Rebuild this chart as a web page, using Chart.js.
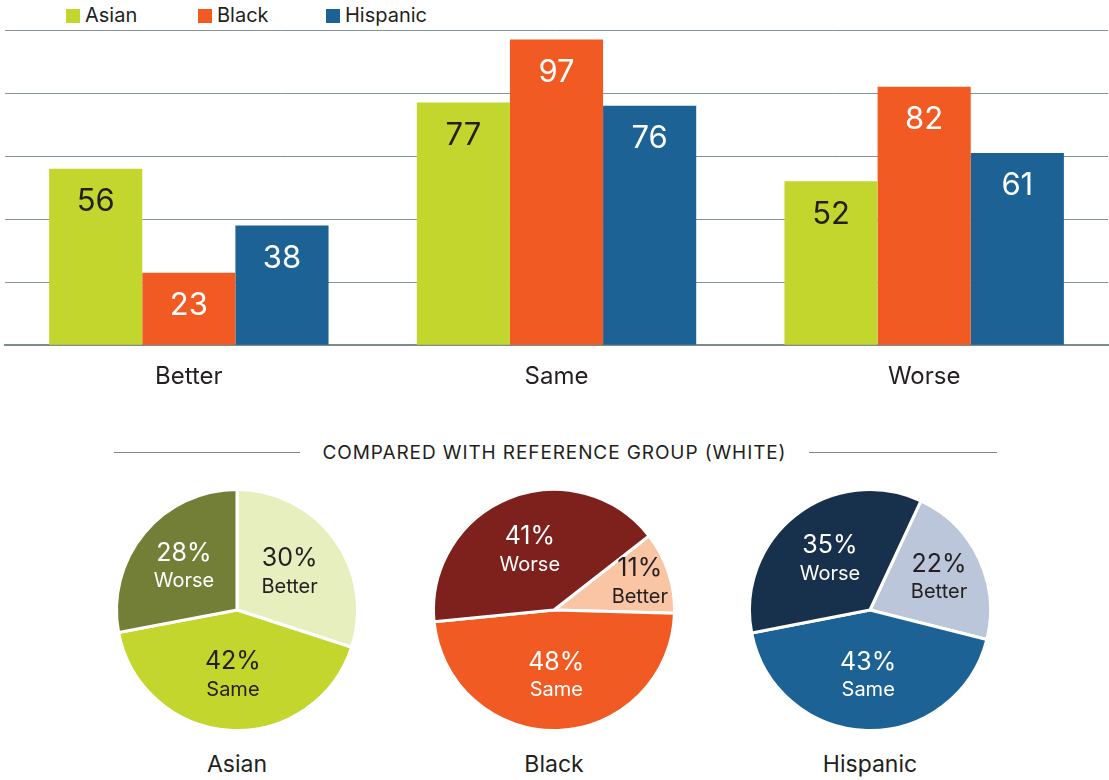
<!DOCTYPE html>
<html>
<head>
<meta charset="utf-8">
<script src="https://cdn.jsdelivr.net/npm/chart.js@4.4.1/dist/chart.umd.min.js"></script>
<style>
  html, body { margin: 0; padding: 0; background: #fff; }
  body { width: 1109px; height: 780px; position: relative; overflow: hidden; font-family: "Inter", "DejaVu Sans", sans-serif; color: #231f20; }
  .abs { position: absolute; }
  .legend-item { position: absolute; top: 4px; font-size: 20px; line-height: 22px; }
  .legend-item i { display: inline-block; width: 14px; height: 14px; margin-right: 5px; vertical-align: -1px; }
  .title { position: absolute; top: 440px; left: 0; width: 1109px; text-align: center; font-size: 19px; line-height: 26px; letter-spacing: 0.9px; }
  .rule { position: absolute; top: 452px; height: 0; border-top: 1.5px solid #7d8a8e; }
  .pie-label { position: absolute; top: 749px; width: 240px; text-align: center; font-size: 23px; line-height: 30px; }
</style>
</head>
<body>
<div id="legend"></div>
<div class="abs" style="left:0;top:0;width:1109px;height:421px;"><canvas id="bars"></canvas></div>
<div class="rule" style="left:114px;width:186px;"></div>
<div class="rule" style="left:809px;width:188px;"></div>
<div class="title">COMPARED WITH REFERENCE GROUP (WHITE)</div>
<div id="pies"></div>
<script>
const categories = ["Better", "Same", "Worse"];
const groups = ["Asian", "Black", "Hispanic"];
const asianCounts = [56, 77, 52];
const blackCounts = [23, 97, 82];
const hispanicCounts = [38, 76, 61];
const yMax = 100;
const yStep = 20;

const asianShares = [30, 42, 28];
const blackShares = [11, 48, 41];
const hispanicShares = [22, 43, 35];

const barColors = ["#c2d62e", "#f15a22", "#1c6294"];
const barLabelColors = ["#231f20", "#ffffff", "#ffffff"];
const pieColors = [
  ["#e8efbf", "#c2d62e", "#737f37"],
  ["#f9c5a4", "#f15a22", "#7e211d"],
  ["#bcc6da", "#1c6294", "#17304c"],
];
const pieLabelColors = [
  ["#231f20", "#231f20", "#ffffff"],
  ["#231f20", "#ffffff", "#ffffff"],
  ["#231f20", "#ffffff", "#ffffff"],
];
const pieRotations = [0, 52, 25];
const FONT = '"Inter", "DejaVu Sans", sans-serif';

// legend
const legendX = [66, 198, 326];
const legend = document.getElementById("legend");
groups.forEach((g, i) => {
  const el = document.createElement("div");
  el.className = "legend-item";
  el.style.left = legendX[i] + "px";
  el.innerHTML = `<i style="background:${barColors[i]}"></i>${g}`;
  legend.appendChild(el);
});

const barValueLabels = {
  id: "barValueLabels",
  afterDatasetsDraw(chart) {
    const { ctx } = chart;
    ctx.save();
    ctx.font = `31px ${FONT}`;
    ctx.textAlign = "center";
    ctx.textBaseline = "middle";
    chart.data.datasets.forEach((ds, di) => {
      ctx.fillStyle = barLabelColors[di];
      chart.getDatasetMeta(di).data.forEach((bar, i) => {
        ctx.fillText(String(ds.data[i]), bar.x, bar.y + 33);
      });
    });
    ctx.restore();
  },
};

new Chart(document.getElementById("bars"), {
  type: "bar",
  data: {
    labels: categories,
    datasets: [
      { label: groups[0], data: asianCounts, backgroundColor: barColors[0] },
      { label: groups[1], data: blackCounts, backgroundColor: barColors[1] },
      { label: groups[2], data: hispanicCounts, backgroundColor: barColors[2] },
    ],
  },
  options: {
    responsive: true,
    maintainAspectRatio: false,
    animation: false,
    layout: { padding: { left: 5, right: 1, top: 30, bottom: 13 } },
    datasets: { bar: { categoryPercentage: 0.76, barPercentage: 1.0 } },
    plugins: { legend: { display: false }, tooltip: { enabled: false } },
    scales: {
      x: {
        grid: { display: false, drawTicks: false },
        border: { display: true, color: "#7d8a8e", width: 2 },
        ticks: { color: "#231f20", font: { family: FONT, size: 24 }, padding: 17 },
      },
      y: {
        min: 0,
        max: yMax,
        ticks: { display: false, stepSize: yStep },
        grid: { color: "#85939a", lineWidth: 1, drawTicks: false },
        border: { display: false },
      },
    },
  },
  plugins: [barValueLabels],
});

// pies
const pieCenters = [237, 554, 870];
const shareSets = [asianShares, blackShares, hispanicShares];
const pies = document.getElementById("pies");

const pieSliceLabels = {
  id: "pieSliceLabels",
  afterDatasetsDraw(chart) {
    const { ctx } = chart;
    const idx = chart.options.pieIndex;
    const shares = chart.data.datasets[0].data;
    ctx.save();
    ctx.textAlign = "center";
    ctx.textBaseline = "middle";
    chart.getDatasetMeta(0).data.forEach((arc, i) => {
      const share = shares[i] / 100;
      const mid = (arc.startAngle + arc.endAngle) / 2;
      const f = share < 0.3 ? 0.55 + (0.3 - share) * 1.05 : 0.54;
      const r = arc.outerRadius * f;
      const cx = arc.x + Math.cos(mid) * r;
      const cy = arc.y + Math.sin(mid) * r;
      ctx.fillStyle = pieLabelColors[idx][i];
      ctx.font = `25px ${FONT}`;
      ctx.fillText(shares[i] + "%", cx, cy - 13);
      ctx.font = `20px ${FONT}`;
      ctx.fillText(categories[i], cx, cy + 15);
    });
    ctx.restore();
  },
};

groups.forEach((g, i) => {
  const wrap = document.createElement("div");
  wrap.className = "abs";
  wrap.style.cssText = `left:${pieCenters[i] - 125}px;top:485px;width:250px;height:250px;`;
  const cv = document.createElement("canvas");
  wrap.appendChild(cv);
  pies.appendChild(wrap);

  const lbl = document.createElement("div");
  lbl.className = "pie-label";
  lbl.style.left = pieCenters[i] - 120 + "px";
  lbl.textContent = g;
  pies.appendChild(lbl);

  new Chart(cv, {
    type: "pie",
    data: {
      labels: categories,
      datasets: [{
        data: shareSets[i],
        backgroundColor: pieColors[i],
        borderColor: "#ffffff",
        borderWidth: 3,
      }],
    },
    options: {
      pieIndex: i,
      responsive: true,
      maintainAspectRatio: false,
      animation: false,
      rotation: pieRotations[i],
      layout: { padding: 3 },
      plugins: { legend: { display: false }, tooltip: { enabled: false } },
    },
    plugins: [pieSliceLabels],
  });
});
</script>
</body>
</html>
